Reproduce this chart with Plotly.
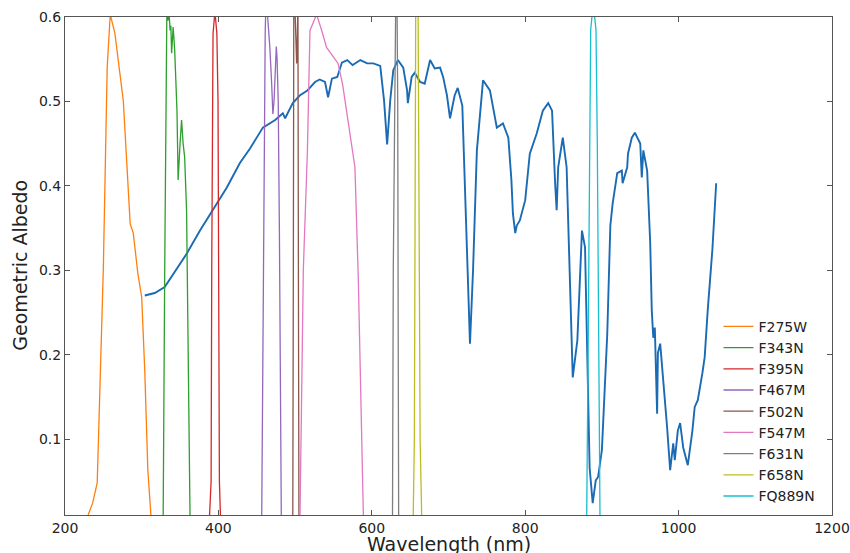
import plotly.graph_objects as go

# ---- Geometric albedo spectrum (nm, albedo) ----
albedo_wl = [304, 317, 330, 343, 359, 376, 389, 398, 411, 428, 441, 458, 474, 484, 487,
             497, 506, 516, 526, 532, 539, 543, 548, 555, 561, 568, 575, 585, 594, 602,
             611, 616, 620, 624, 628, 634, 641, 646, 647, 652, 656, 663, 669, 676, 682,
             689, 693, 698, 702, 708, 712, 718, 723, 728, 732, 737, 745, 754, 763, 771,
             778, 782, 784, 787, 789, 793, 800, 806, 815, 823, 830, 835, 839, 841, 843,
             849, 854, 858, 862, 868, 874, 878, 882, 884, 888, 892, 895, 900, 907, 911,
             914, 920, 926, 927, 933, 934, 939, 943, 950, 952, 954, 959, 963, 965, 967,
             969, 972, 973, 976, 980, 985, 989, 993, 995, 999, 1002, 1006, 1012, 1018,
             1021, 1025, 1031, 1034, 1038, 1044, 1049]
albedo_val = [0.270, 0.273, 0.280, 0.298, 0.320, 0.347, 0.366, 0.379, 0.398, 0.427, 0.444,
              0.469, 0.478, 0.486, 0.480, 0.498, 0.507, 0.513, 0.523, 0.526, 0.523, 0.505,
              0.527, 0.529, 0.546, 0.549, 0.543, 0.549, 0.545, 0.545, 0.542, 0.501, 0.449,
              0.501, 0.537, 0.549, 0.540, 0.513, 0.498, 0.529, 0.534, 0.523, 0.521, 0.549,
              0.539, 0.540, 0.529, 0.507, 0.480, 0.507, 0.516, 0.495, 0.359, 0.213, 0.300,
              0.442, 0.525, 0.513, 0.469, 0.474, 0.457, 0.407, 0.367, 0.344, 0.353, 0.359,
              0.383, 0.438, 0.462, 0.489, 0.498, 0.489, 0.403, 0.371, 0.422, 0.457, 0.422,
              0.303, 0.173, 0.217, 0.347, 0.327, 0.146, 0.066, 0.024, 0.051, 0.055, 0.087,
              0.225, 0.353, 0.379, 0.415, 0.418, 0.403, 0.422, 0.438, 0.457, 0.463, 0.450,
              0.410, 0.442, 0.418, 0.332, 0.253, 0.220, 0.232, 0.130, 0.202, 0.213, 0.173,
              0.114, 0.063, 0.095, 0.075, 0.110, 0.119, 0.090, 0.069, 0.110, 0.138, 0.146,
              0.178, 0.197, 0.253, 0.324, 0.403]

# ---- Filter throughput curves (scaled) ----
filter_names = ["F275W", "F343N", "F395N", "F467M", "F502N", "F547M", "F631N", "F658N", "FQ889N"]
filter_colors = ["#ff7f0e", "#2ca02c", "#d62728", "#9467bd", "#8c564b",
                 "#e377c2", "#7f7f7f", "#bcbd22", "#17becf"]

f275w_wl = [226, 230, 236, 242, 243, 246, 248, 250, 255, 259, 265, 276, 285, 289, 295, 300, 304, 308, 312, 315]
f275w_val = [0.0, 0.01, 0.024, 0.048, 0.083, 0.161, 0.261, 0.303, 0.540, 0.603, 0.581, 0.501,
             0.355, 0.344, 0.296, 0.268, 0.181, 0.063, 0.01, 0.0]

f343n_wl = [325, 328, 330, 332, 333, 334, 336, 337, 338, 339, 340, 341, 342, 343, 346, 347.5,
            350, 352, 354, 356, 358.5, 360, 363, 365]
f343n_val = [0.0, 0.01, 0.3, 0.6, 0.63, 0.596, 0.60, 0.584, 0.59, 0.557, 0.58, 0.588, 0.575,
             0.561, 0.489, 0.407, 0.45, 0.478, 0.45, 0.434, 0.371, 0.264, 0.01, 0.0]

f395n_wl = [388, 390.5, 391.3, 392, 393, 395.5, 398, 399.5, 400.5, 401.3, 403]
f395n_val = [0.0, 0.05, 0.3, 0.5, 0.58, 0.607, 0.58, 0.5, 0.3, 0.05, 0.0]

f467m_wl = [454, 456.5, 458, 459.5, 461, 462, 463.5, 465, 467, 469.5, 471, 472.5, 474, 475.5,
            476.5, 478, 479.5, 480.5, 482, 484]
f467m_val = [0.0, 0.01, 0.2, 0.45, 0.58, 0.62, 0.61, 0.59, 0.565, 0.52, 0.485, 0.5, 0.54,
             0.565, 0.55, 0.5, 0.35, 0.15, 0.01, 0.0]

f502n_wl = [495, 497, 497.7, 498.3, 499.5, 501, 502, 503, 503.7, 504.3, 505, 507]
f502n_val = [0.0, 0.01, 0.3, 0.62, 0.62, 0.58, 0.545, 0.58, 0.62, 0.3, 0.01, 0.0]

f547m_wl = [503, 506.4, 510.7, 516, 519.4, 528, 534.7, 541, 548, 556, 562, 571.6, 578,
            582.4, 585.5, 589, 592]
f547m_val = [0.0, 0.01, 0.3, 0.44, 0.584, 0.603, 0.584, 0.564, 0.555, 0.545, 0.52, 0.462,
             0.422, 0.29, 0.15, 0.01, 0.0]

f631n_wl = [624, 627, 628, 629.5, 630.5, 631.5, 633, 633.8, 634.5, 635, 637]
f631n_val = [0.0, 0.01, 0.3, 0.5, 0.6, 0.65, 0.6, 0.5, 0.2, 0.01, 0.0]

f658n_wl = [651, 654, 655.5, 656.5, 657.3, 660.3, 661.5, 663, 665, 667]
f658n_val = [0.0, 0.01, 0.1, 0.4, 0.62, 0.62, 0.4, 0.1, 0.01, 0.0]

fq889n_wl = [877, 880.2, 882, 883.6, 885.4, 887, 888.8, 890.5, 892.3, 894, 896, 897.5, 900]
fq889n_val = [0.0, 0.01, 0.2, 0.45, 0.585, 0.6, 0.606, 0.6, 0.585, 0.45, 0.2, 0.01, 0.0]

filter_wl = [f275w_wl, f343n_wl, f395n_wl, f467m_wl, f502n_wl, f547m_wl, f631n_wl, f658n_wl, fq889n_wl]
filter_val = [f275w_val, f343n_val, f395n_val, f467m_val, f502n_val, f547m_val, f631n_val, f658n_val, fq889n_val]

x_ticks = [200, 400, 600, 800, 1000, 1200]
y_ticks = [0.1, 0.2, 0.3, 0.4, 0.5, 0.6]

fig = go.Figure()
fig.add_trace(go.Scatter(x=albedo_wl, y=albedo_val, mode="lines",
                         line=dict(color="#1a6bb4", width=1.9), showlegend=False))
for name, col, wl, val in zip(filter_names, filter_colors, filter_wl, filter_val):
    fig.add_trace(go.Scatter(x=wl, y=val, mode="lines", name=name,
                             line=dict(color=col, width=1.3)))

axis_common = dict(showgrid=False, zeroline=False, showline=True, mirror="ticks",
                   linecolor="#555555", linewidth=1, ticks="inside", ticklen=5,
                   tickcolor="#555555", automargin=False,
                   tickfont=dict(family="DejaVu Sans", size=14, color="#222222"))

fig.update_layout(
    width=850, height=553,
    margin=dict(l=65, r=18, t=17, b=38),
    paper_bgcolor="white", plot_bgcolor="white",
    font=dict(family="DejaVu Sans", color="#222222"),
    xaxis=dict(range=[200, 1200], tickvals=x_ticks, ticktext=[str(v) for v in x_ticks], **axis_common),
    yaxis=dict(range=[0.01, 0.6], tickvals=y_ticks, ticktext=["%.1f" % v for v in y_ticks], **axis_common),
    legend=dict(x=0.852, y=0.41, xanchor="left", yanchor="top", bgcolor="rgba(0,0,0,0)",
                borderwidth=0, font=dict(family="DejaVu Sans", size=14, color="#222222"),
                tracegroupgap=0),
    annotations=[
        dict(text="Wavelength (nm)", xref="paper", yref="paper", x=0.5, y=-0.058,
             xanchor="center", yanchor="middle", showarrow=False,
             font=dict(family="DejaVu Sans", size=19, color="#222222")),
        dict(text="Geometric Albedo", xref="paper", yref="paper", x=-0.059, y=0.502,
             xanchor="center", yanchor="middle", textangle=-90, showarrow=False,
             font=dict(family="DejaVu Sans", size=19, color="#222222")),
    ],
)

fig.write_html("out.html", config={"displayModeBar": False},
               post_script="document.body.style.margin='0';document.body.style.overflow='hidden';")
